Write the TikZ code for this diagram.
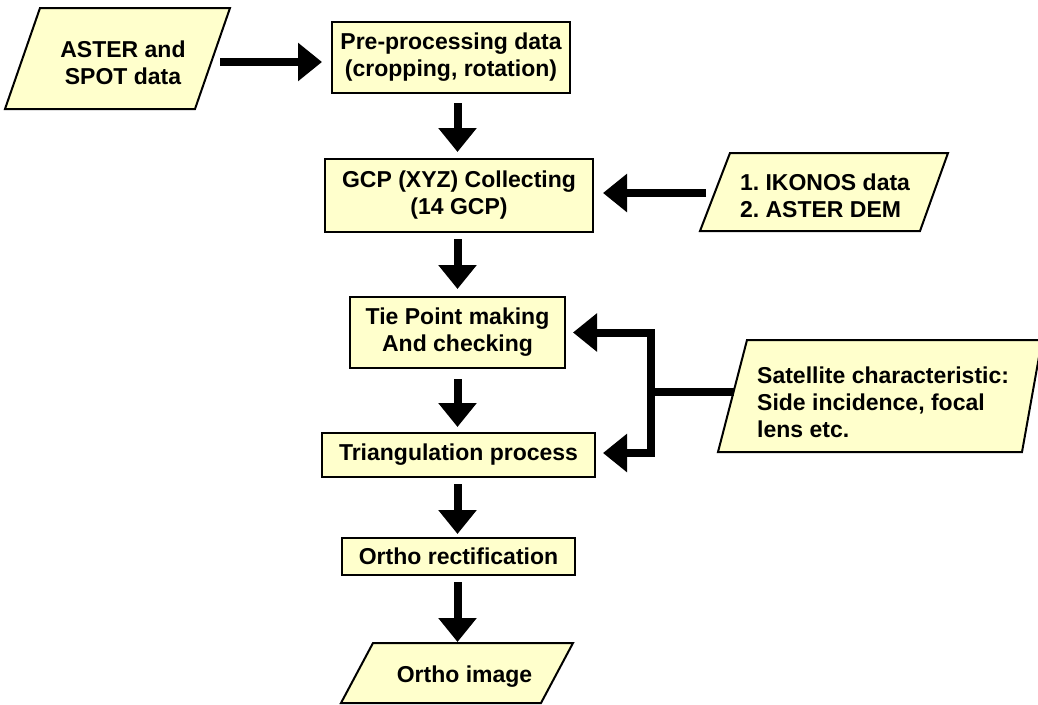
\documentclass[tikz,border=0pt]{standalone}
\usepackage{fontspec}
\setmainfont{Liberation Sans}
\usetikzlibrary{arrows.meta}
\definecolor{boxfill}{RGB}{255,255,204}
\frenchspacing
\begin{document}
\begin{tikzpicture}[x=1pt,y=-1pt,
  txt/.style={inner sep=0pt,font=\fontsize{23}{27}\selectfont\bfseries},
  box/.style={txt,draw=black,line width=2pt,fill=boxfill,align=center},
  para/.style={draw=black,line width=2pt,fill=boxfill,line join=miter},
  flow/.style={line width=8pt,line join=miter,-{Triangle[length=24pt,width=37pt]}},
  feed/.style={line width=8pt}]
\useasboundingbox (0,0) rectangle (1038,704);

% process boxes
\node[box,minimum width=238pt,minimum height=71pt] (pre) at (451,57.5) {Pre-processing data\\(cropping, rotation)};
\node[box,minimum width=268pt,minimum height=73pt] (gcp) at (459,195.5) {GCP (XYZ) Collecting\\(14 GCP)};
\node[box,minimum width=215pt,minimum height=71pt] (tie) at (457.5,332.5) {Tie Point making\\And checking};
\node[box,minimum width=273pt,minimum height=44pt] (tri) at (458.5,455) {Triangulation process};
\node[box,minimum width=233pt,minimum height=37pt] (orr) at (458.5,556.5) {Ortho rectification};

% data parallelograms
\draw[para] (40,8) -- (230,8) -- (195,109) -- (5,109) -- cycle;
\node[txt,align=center] (aster) at (123,63) {ASTER and\\SPOT data};
\draw[para] (730,153) -- (948,153) -- (920,231) -- (700,231) -- cycle;
\node[txt,align=left] (ikonos) at (825,196) {1. IKONOS data\\2. ASTER DEM};
\draw[para] (747,340) -- (1042,340) -- (1022,452) -- (718,452) -- cycle;
\node[txt,align=left,anchor=west] (sat) at (757,402) {Satellite characteristic:\\Side incidence, focal\\lens etc.};
\draw[para] (373,643) -- (573,643) -- (541,703) -- (341,703) -- cycle;
\node[txt] (img) at (464.5,677) {Ortho image};

% connector anchors on the slanted edges
\coordinate (asterR) at (211,62);
\coordinate (ikoL) at (712,193);
\coordinate (satL) at (733.5,392);
\coordinate (jn) at (651,392);
\coordinate (jnL) at (647,392);
\coordinate (imgT) at (457.5,643);

% connectors
\draw[flow,shorten <=9pt,shorten >=9pt] (asterR) -- (asterR -| pre.west);
\draw[flow,shorten <=9pt,shorten >=6pt] (pre.south -| tie.north) -- (gcp.north -| tie.north);
\draw[flow,shorten <=6pt,shorten >=7pt] (gcp.south -| tie.north) -- (tie.north);
\draw[flow,shorten <=10pt,shorten >=5pt] (tie.south) -- (tri.north -| tie.south);
\draw[flow,shorten <=6pt,shorten >=3pt] (tri.south -| tie.south) -- (orr.north -| tie.south);
\draw[flow,shorten <=6pt,shorten >=1pt] (orr.south -| tie.south) -- (imgT);
\draw[flow,shorten <=6pt,shorten >=9pt] (ikoL) -- (ikoL -| gcp.east);
\draw[feed] (satL) -- (jnL);
\draw[flow,shorten >=7pt] (jn) |- (tie.east);
\draw[flow,shorten >=7pt] (jn) |- ([yshift=2pt]tri.east);
\end{tikzpicture}
\end{document}
